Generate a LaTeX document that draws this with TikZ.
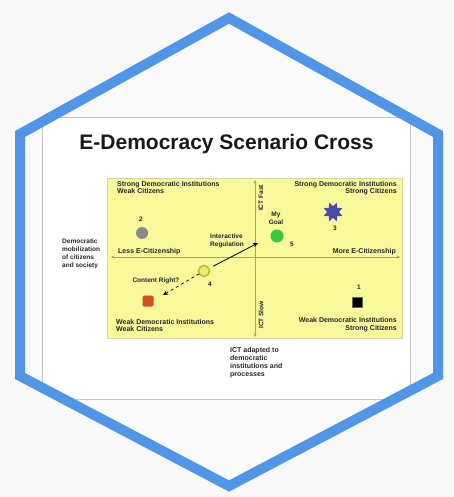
\documentclass[tikz,border=0pt]{standalone}
\usepackage{fontspec}
\setmainfont{Liberation Sans}
\usetikzlibrary{shapes.geometric,arrows.meta}
\definecolor{bgc}{HTML}{F8F8F8}
\definecolor{insidec}{HTML}{FAFAFA}
\definecolor{slidebd}{HTML}{C4C4C4}
\definecolor{hexblue}{HTML}{5096E8}
\definecolor{boxyellow}{HTML}{F9F89A}
\definecolor{boxbd}{HTML}{D8D6A0}
\definecolor{axisc}{HTML}{A0A090}
\definecolor{ptgray}{HTML}{8A8A8A}
\definecolor{ptblue}{HTML}{4A4AB0}
\definecolor{ptgreen}{HTML}{3CC83C}
\definecolor{ptyellow}{HTML}{E8EE70}
\definecolor{ptyring}{HTML}{B8C030}
\definecolor{ptred}{HTML}{D05028}
\tikzset{
  lbl/.style={font=\fontsize{7}{7.6}\selectfont\bfseries, inner sep=0pt, text=black!85},
  small/.style={font=\fontsize{6.5}{7.6}\selectfont\bfseries, inner sep=0pt, text=black!85},
  axis/.style={draw=axisc, line width=0.6pt},
  tip/.style={-{Stealth[length=3.5pt,width=3pt]}},
  pt/.style={inner sep=0pt, outer sep=0pt}
}
\begin{document}
\begin{tikzpicture}[x=1pt,y=-1pt]
\useasboundingbox (0,0) rectangle (453,497);
\fill[bgc] (0,0) rectangle (453,497);
\begin{scope}
\clip (229,18) -- (438,134) -- (438,376) -- (229,486) -- (20,376) -- (20,134) -- cycle;
\fill[insidec] (0,0) rectangle (453,497);
\draw[slidebd, fill=white, line width=0.8pt] (42,117) rectangle (410,399);
\end{scope}
\draw[hexblue, line width=10pt] (229,18) -- (438,134) -- (438,376) -- (229,486) -- (20,376) -- (20,134) -- cycle;

% title
\node[font=\fontsize{21}{24}\selectfont\bfseries, inner sep=0pt, text=black!90] (title) at (226.5,144) {E-Democracy Scenario Cross};

% yellow box
\draw[boxbd, fill=boxyellow, line width=0.6pt] (107,178) rectangle (402,338);

% axes
\coordinate (vtop) at (255,180);
\coordinate (vbot) at (255,337);
\coordinate (hleft) at (111,257);
\coordinate (hright) at (400,257);
\coordinate (ctr) at (255,257);
\draw[axis, tip] (ctr) -- (vtop);
\draw[axis, tip] (ctr) -- (vbot);
\draw[axis, tip] (ctr) -- (hleft);
\draw[axis, tip] (ctr) -- (hright);

% quadrant labels
\node[lbl, anchor=north west, align=left] (tl) at (117,181) {Strong Democratic Institutions\\Weak Citizens};
\node[lbl, anchor=north east, align=right] (tr) at (397,181) {Strong Democratic Institutions\\Strong Citizens};
\node[lbl, anchor=south west, align=left] (bl) at (116,332) {Weak Democratic Institutions\\Weak Citizens};
\node[lbl, anchor=south east, align=right] (br) at (397,332) {Weak Democratic Institutions\\Strong Citizens};
\node[lbl, anchor=south west] (less) at (118,255.5) {Less E-Citizenship};
\node[lbl, anchor=south east] (more) at (396,255.5) {More E-Citizenship};
\node[small, rotate=90, anchor=north] (fast) at (258.5,198) {ICT Fast};
\node[small, rotate=90, anchor=north] (slow) at (258.5,315) {ICT Slow};

% outer axis labels
\node[small, anchor=north west, align=left, font=\fontsize{6.5}{8}\selectfont\bfseries] (ylab) at (62,239) {Democratic\\mobilization\\of citizens\\and society};
\node[lbl, anchor=north west, align=left, font=\fontsize{7}{8}\selectfont\bfseries] (xlab) at (230,347) {ICT adapted to\\democratic\\institutions and\\processes};

% points
\node[pt, circle, fill=ptgray, minimum size=12pt] (p2) at (142,233) {};
\node[small] (n2) at (141,219) {2};
\node[pt, star, star points=8, star point ratio=0.6, fill=ptblue, minimum size=12pt] (p3) at (333,212) {};
\node[small] (n3) at (335,228) {3};
\node[pt, circle, fill=ptgreen, minimum size=13pt] (p5) at (277,236) {};
\node[small, align=center] (goal) at (276,218) {My\\Goal};
\node[small] (n5) at (292,244) {5};
\node[pt, circle, fill=ptyellow, draw=ptyring, line width=1.6pt, minimum size=11pt] (p4) at (204,271) {};
\node[small] (n4) at (210,284) {4};
\node[pt, rectangle, fill=ptred, minimum size=11pt, rounded corners=1.5pt] (p6) at (148,301) {};
\node[pt, rectangle, fill=black, draw=black!60, line width=1pt, minimum size=10pt] (p1) at (357,302) {};
\node[small] (n1) at (359,287) {1};

% arrows
\coordinate (ir) at (258,243);
\coordinate (cr) at (163,295);
\draw[line width=0.8pt, -{Stealth[length=5pt,width=4.5pt]}, shorten <=5pt] (p4) -- (ir);
\draw[line width=0.7pt, dashed, -{Stealth[length=5pt,width=4.5pt]}] (p4) -- (cr);
\node[small, align=left] (irl) at (227,241) {Interactive\\Regulation};
\node[small] (crl) at (156,281) {Content Right?};
\end{tikzpicture}
\end{document}
